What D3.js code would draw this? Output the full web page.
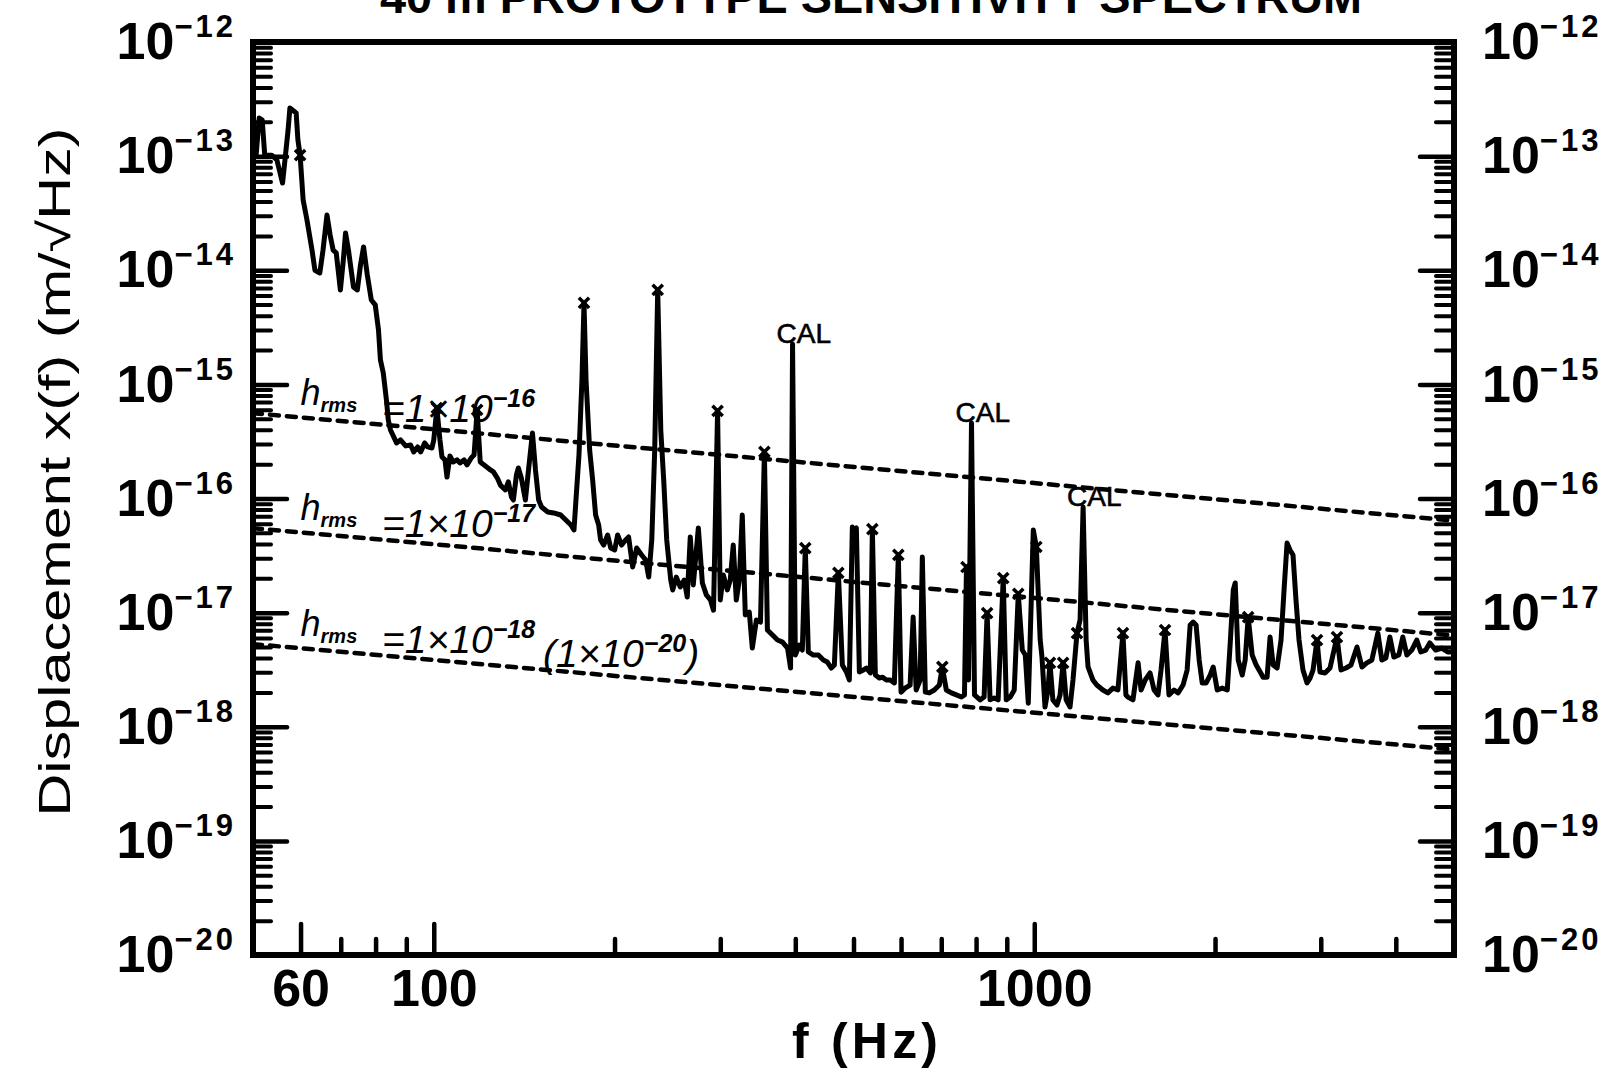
<!DOCTYPE html>
<html>
<head>
<meta charset="utf-8">
<script src="https://cdn.jsdelivr.net/npm/d3@7"></script>
<style>
  body { margin: 0; background: #fff; }
  svg { display: block; }
</style>
</head>
<body>
<div id="chart"></div>
<script>
{
    /*#########
      Data
    #########*/

    // Spectrum: [frequency (Hz), displacement (m/sqrt(Hz))]
    const spectrum = [
        [50.6,1.02e-13],[51.2,2.16e-13],[51.8,2.07e-13],[52.3,1.02e-13],[53.7,1.02e-13],[54.8,9.25e-14],[56.0,5.81e-14],[57.2,1.69e-13],[57.6,2.64e-13],[59.0,2.39e-13],[59.4,1.38e-13],[59.9,1.02e-13],
        [60.6,4.12e-14],[61.5,2.75e-14],[62.7,1.50e-14],[63.4,1.00e-14],[64.6,9.47e-15],[65.4,1.50e-14],[66.4,3.05e-14],[67.2,2.04e-14],[68.0,1.50e-14],[68.8,1.42e-14],[69.9,6.72e-15],
        [70.7,1.23e-14],[71.3,2.12e-14],[72.1,1.50e-14],[73.5,7.14e-15],[74.6,6.72e-15],[75.5,1.11e-14],[76.4,1.60e-14],[77.5,9.10e-15],[78.7,5.49e-15],[79.9,4.97e-15],
        [80.9,3.00e-15],[81.5,1.64e-15],[82.4,1.26e-15],[83.4,7.30e-16],[84.0,4.88e-16],[84.7,3.98e-16],[86.7,3.07e-16],[88.0,3.26e-16],[89.8,2.89e-16],
        [91.5,2.94e-16],[92.6,2.56e-16],[94.0,2.83e-16],[95.1,2.56e-16],[96.6,3.07e-16],[97.7,2.83e-16],[99.3,2.77e-16],[100.0,3.26e-16],[101.2,6.21e-16],[102.4,3.26e-16],
        [103.2,2.31e-16],[104.4,2.18e-16],[105.2,1.54e-16],[106.4,2.36e-16],[107.7,2.09e-16],[109.3,2.18e-16],[110.6,2.05e-16],[112.3,2.18e-16],[113.6,1.97e-16],[115.4,2.26e-16],[116.7,2.40e-16],[118.1,5.97e-16],[119.5,2.09e-16],
        [121.9,1.93e-16],[124.3,1.78e-16],[125.7,1.71e-16],[127.6,1.51e-16],[129.1,1.31e-16],[131.6,1.19e-16],[133.1,1.40e-16],[134.7,1.03e-16],[135.7,9.70e-17],[137.3,1.61e-16],[138.3,1.85e-16],[139.9,1.51e-16],
        [142.1,9.70e-17],[143.8,1.78e-16],[146.0,3.75e-16],[147.7,1.78e-16],[149.5,9.70e-17],[151.2,8.43e-17],[154.8,7.62e-17],[158.4,7.47e-17],[162.7,7.17e-17],[165.9,6.48e-17],[169.2,5.86e-17],[171.2,5.30e-17],
        [172.5,9.70e-17],[174.5,2.40e-16],[176.5,1.09e-15],[177.9,5.17e-15],[179.3,1.09e-15],[181.8,2.66e-16],[183.9,1.45e-16],[186.0,7.17e-17],[188.2,5.86e-17],[189.6,4.33e-17],
        [191.8,3.91e-17],[194.8,4.79e-17],[197.1,3.68e-17],[200.1,3.54e-17],[202.4,4.79e-17],[205.5,3.91e-17],[208.7,4.33e-17],[211.1,4.60e-17],[214.4,2.51e-17],[217.7,3.68e-17],[221.9,3.20e-17],[225.4,2.89e-17],[228.0,2.05e-17],
        [230.7,4.33e-17],[233.3,2.66e-16],[236.0,6.72e-15],[238.8,3.98e-16],[241.5,1.45e-16],[244.3,4.33e-17],[248.1,1.93e-17],[250.0,1.58e-17],[253.4,2.05e-17],[257.3,1.68e-17],[261.3,1.93e-17],[264.3,1.37e-17],[267.4,4.60e-17],[270.5,1.75e-17],[275.8,5.52e-17],
        [280.1,1.82e-17],[284.4,1.43e-17],[288.9,1.29e-17],[292.3,1.05e-17],[296.9,5.85e-16],[300.0,1.29e-17],[303.5,2.14e-17],[308.2,1.58e-17],[311.7,1.93e-17],[315.3,3.91e-17],[319.0,1.29e-17],[322.7,1.93e-17],[326.4,7.17e-17],
        [330.2,9.53e-18],[335.3,1.01e-17],[339.2,4.89e-18],[344.5,8.61e-18],[350.0,8.27e-18],[355.3,2.56e-16],[359.4,7.04e-18],[366.5,6.36e-18],[373.6,5.75e-18],[380.9,5.52e-18],[388.3,4.89e-18],[392.8,3.27e-18],[395.8,2.26e-15],
        [400.0,4.25e-18],[406.2,5.20e-18],[410.9,4.70e-18],[415.6,3.68e-17],[420.5,4.52e-18],[428.6,4.25e-18],[436.9,4.25e-18],[445.4,3.84e-18],[452.3,3.69e-18],[459.3,3.27e-18],[464.6,3.47e-18],[471.8,2.23e-17],
        [479.1,3.47e-18],[486.5,3.02e-18],[492.1,2.57e-18],[497.8,5.62e-17],[501.6,5.30e-17],[505.5,5.52e-17],[511.4,3.02e-18],[519.3,3.14e-18],[525.3,3.27e-18],[533.4,2.96e-18],[537.5,5.40e-17],
        [543.7,2.84e-18],[552.1,2.67e-18],[558.5,2.72e-18],[567.1,2.57e-18],[575.9,2.57e-18],[584.8,2.42e-18],[593.8,3.20e-17],[600.0,2.01e-18],[609.3,2.18e-18],[621.2,2.32e-18],[628.5,9.15e-18],[635.8,2.10e-18],[645.6,2.57e-18],[651.0,3.07e-17],[658.5,2.01e-18],[668.7,1.98e-18],[681.6,2.10e-18],[694.9,2.32e-18],
        [702.9,3.34e-18],[713.7,2.10e-18],[727.7,1.98e-18],[741.9,1.90e-18],[756.4,1.82e-18],[765.2,1.90e-18],[771.1,2.51e-17],[777.0,2.57e-18],[786.1,4.59e-16],[795.2,1.90e-18],
        [812.4,1.72e-18],[825.0,1.82e-18],[834.6,9.92e-18],[844.2,1.72e-18],[857.4,1.79e-18],[870.6,1.72e-18],[887.8,2.01e-17],[898.1,1.72e-18],[912.0,1.82e-18],[926.1,2.10e-18],[940.5,1.46e-17],[955.1,4.70e-18],[966.2,4.25e-18],[977.3,1.61e-18],[988.6,1.29e-17],[996.3,5.30e-17],
        [1008,3.76e-17],[1023,5.75e-18],[1030,4.08e-18],[1042,1.49e-18],[1054,2.10e-18],[1062,3.63e-18],[1074,1.72e-18],[1091,1.55e-18],[1104,1.90e-18],[1117,3.63e-18],[1130,1.72e-18],[1147,1.49e-18],[1160,2.57e-18],[1178,6.62e-18],[1192,8.61e-18],[1206,8.43e-17],
        [1220,5.75e-18],[1229,3.34e-18],[1252,2.57e-18],[1271,2.32e-18],[1301,2.10e-18],[1326,1.98e-18],[1352,2.18e-18],[1378,2.10e-18],[1405,6.62e-18],[1421,1.90e-18],[1432,1.82e-18],[1460,1.72e-18],[1489,3.63e-18],
        [1506,2.10e-18],[1530,2.57e-18],[1559,2.96e-18],[1583,2.10e-18],[1607,1.90e-18],[1626,3.14e-18],[1651,7.04e-18],[1676,1.90e-18],[1709,2.10e-18],[1736,1.98e-18],[1769,2.32e-18],[1797,3.14e-18],[1818,7.79e-18],[1839,8.27e-18],[1860,7.79e-18],[1882,3.84e-18],
        [1904,2.42e-18],[1933,2.42e-18],[1963,2.84e-18],[1986,3.34e-18],[2017,2.10e-18],[2056,2.18e-18],[2096,2.10e-18],[2120,5.42e-18],[2145,1.58e-17],[2161,1.82e-17],[2186,3.84e-18],[2220,2.84e-18],[2245,3.84e-18],[2271,9.15e-18],
        [2306,4.25e-18],[2342,3.47e-18],[2378,3.02e-18],[2405,2.72e-18],[2442,2.72e-18],[2470,6.11e-18],[2499,3.47e-18],[2537,3.27e-18],[2576,5.75e-18],[2606,1.58e-17],[2636,4.07e-17],[2666,3.54e-17],[2697,3.20e-17],[2728,1.29e-17],[2760,5.75e-18],
        [2802,3.14e-18],[2846,2.42e-18],[2879,2.67e-18],[2912,3.14e-18],[2957,5.75e-18],[2991,3.02e-18],[3049,2.96e-18],[3108,3.27e-18],[3192,6.11e-18],[3242,3.14e-18],[3304,3.27e-18],[3368,3.47e-18],[3447,5.00e-18],
        [3513,3.34e-18],[3580,3.63e-18],[3649,3.84e-18],[3734,6.62e-18],[3792,3.84e-18],[3850,4.00e-18],[3910,6.11e-18],[3970,4.08e-18],[4047,4.25e-18],[4109,6.11e-18],[4173,4.25e-18],[4253,4.70e-18],[4335,5.75e-18],[4402,4.52e-18],[4487,4.70e-18],[4556,5.42e-18],[4662,4.70e-18],[4770,4.89e-18],[4881,4.52e-18],[4975,4.52e-18]
    ];

    // Lines flagged with an "x" on the plot
    const markedFreqs = [59.9, 101.2, 118.1, 177.9, 236.0, 296.9, 355.3, 415.6, 471.8, 537.5, 593.8, 702.9, 771.1, 834.6, 887.8, 940.5, 1008, 1062, 1117, 1178, 1405, 1651, 2271, 2957, 3192];

    // Calibration lines
    const calFreqs = [395.8, 786.1, 1206];

    // h_rms reference lines (dashed)
    const hrmsExp = [-16, -17, -18];
    const hrmsStart = [5.6e-16, 5.5e-17, 5.3e-18];
    const hrmsEnd = [6.4e-17, 6.3e-18, 6.3e-19];
    const hrmsFreqRange = [50, 5000];

    // Axis ticks
    const xMajorTicks = [60, 100, 1000];
    const xMinorTicks = [70, 80, 90, 200, 300, 400, 500, 600, 700, 800, 900, 2000, 3000, 4000];
    const yDecades = [-12, -13, -14, -15, -16, -17, -18, -19, -20];

    /*#########
      Global
    #########*/

    const margin = { top: 42, right: 158, bottom: 118, left: 253 };
    const width = 1612 - margin.left - margin.right;
    const height = 1073 - margin.top - margin.bottom;
    const font = "'Liberation Sans', Arial, Helvetica, sans-serif";

    const svg = d3.select('#chart')
        .append('svg')
        .attr('width', 1612)
        .attr('height', 1073)
        .style('background', '#fff');

    const g = svg.append('g')
        .attr('transform', 'translate(' + margin.left + ',' + margin.top + ')');

    //Scales
    const x = d3.scaleLog().domain([50, 5000]).range([0, width]);
    const y = d3.scaleLog().domain([1e-20, 1e-12]).range([height, 0]);

    const yMajor = yDecades.map(e => Math.pow(10, e));
    const yMinor = [];
    for (let e = -20; e < -12; e++) {
        for (let m = 2; m <= 9; m++) yMinor.push(m * Math.pow(10, e));
    }

    /*###########
      Reference lines
    ###########*/

    const hrmsAt = (i, f) => hrmsStart[i] * Math.pow(hrmsEnd[i] / hrmsStart[i],
        Math.log(f / hrmsFreqRange[0]) / Math.log(hrmsFreqRange[1] / hrmsFreqRange[0]));

    const line = d3.line().x(d => x(d[0])).y(d => y(d[1]));

    hrmsExp.forEach((e, i) => {
        g.append('path')
            .attr('d', line(hrmsFreqRange.map(f => [f, hrmsAt(i, f)])))
            .attr('fill', 'none')
            .attr('stroke', '#000')
            .attr('stroke-width', 4.5)
            .attr('stroke-linecap', 'round')
            .attr('stroke-dasharray', '9,8');

        // label  h_rms = 1x10^e
        const t = g.append('text')
            .attr('x', x(60))
            .attr('y', y(hrmsAt(i, 60)) - 12)
            .attr('font-family', font)
            .attr('font-style', 'italic')
            .attr('fill', '#000');
        t.append('tspan').attr('font-size', 36).text('h');
        t.append('tspan').attr('font-size', 20).attr('font-weight', 'bold').attr('dy', 7).text('rms');
        t.append('tspan').attr('font-size', 39).attr('x', x(82)).attr('dy', 10).text('=1×10');
        t.append('tspan').attr('font-size', 25).attr('font-weight', 'bold').attr('dy', -15).text('−' + (-e));
    });

    // (1x10^-20) note on the lowest line
    const note = g.append('text')
        .attr('x', x(152))
        .attr('y', y(hrmsAt(2, 152)) - 3)
        .attr('font-family', font)
        .attr('font-style', 'italic')
        .attr('fill', '#000');
    note.append('tspan').attr('font-size', 39).text('(1×10');
    note.append('tspan').attr('font-size', 25).attr('font-weight', 'bold').attr('dy', -15).text('−20');
    note.append('tspan').attr('font-size', 39).attr('dy', 15).text(')');

    /*###########
      Spectrum
    ###########*/

    g.append('path')
        .datum(spectrum)
        .attr('d', line)
        .attr('fill', 'none')
        .attr('stroke', '#000')
        .attr('stroke-width', 5)
        .attr('stroke-linejoin', 'round')
        .attr('stroke-linecap', 'round');

    const nearest = f => spectrum.reduce((a, b) =>
        Math.abs(Math.log(b[0] / f)) < Math.abs(Math.log(a[0] / f)) ? b : a);

    //Markers
    g.selectAll('.mark')
        .data(markedFreqs.map(nearest))
        .join('path')
        .attr('class', 'mark')
        .attr('transform', d => 'translate(' + x(d[0]) + ',' + y(d[1]) + ')')
        .attr('d', d3.symbol(d3.symbolTimes, 70))
        .attr('fill', 'none')
        .attr('stroke', '#000')
        .attr('stroke-width', 3.5);

    //CAL labels
    g.selectAll('.cal')
        .data(calFreqs.map(nearest))
        .join('text')
        .attr('class', 'cal')
        .attr('x', d => x(d[0]) - 16)
        .attr('y', d => y(d[1]) - 1)
        .attr('font-family', font)
        .attr('font-size', 28)
        .attr('stroke', '#000')
        .attr('stroke-width', 0.6)
        .attr('fill', '#000')
        .text('CAL');

    /*###########
      Axes
    ###########*/

    const styleTicks = (sel, w) => {
        sel.select('.domain').remove();
        sel.selectAll('.tick line')
            .attr('stroke', '#000')
            .attr('stroke-width', w)
            .attr('stroke-linecap', 'round');
    };

    const powerText = sel => sel.selectAll('.tick text').each(function (d) {
        const t = d3.select(this).text(null);
        t.append('tspan').text('10');
        t.append('tspan')
            .attr('dy', -22)
            .attr('font-size', 31)
            .attr('letter-spacing', 3)
            .text('−' + Math.round(-Math.log10(d)));
    });

    const labelStyle = sel => sel
        .attr('font-family', font)
        .attr('font-size', 52)
        .attr('font-weight', 'bold');

    //Left
    g.append('g')
        .call(d3.axisLeft(y).tickValues(yMinor).tickSize(-18).tickFormat(() => ''))
        .call(styleTicks, 4);
    g.append('g')
        .call(d3.axisLeft(y).tickValues(yMajor).tickSize(-34).tickPadding(17).tickFormat(() => ''))
        .call(styleTicks, 4.5)
        .call(labelStyle)
        .call(powerText);

    //Right
    g.append('g')
        .attr('transform', 'translate(' + width + ',0)')
        .call(d3.axisRight(y).tickValues(yMinor).tickSize(-18).tickFormat(() => ''))
        .call(styleTicks, 4);
    g.append('g')
        .attr('transform', 'translate(' + width + ',0)')
        .call(d3.axisRight(y).tickValues(yMajor).tickSize(-34).tickPadding(28).tickFormat(() => ''))
        .call(styleTicks, 4.5)
        .call(labelStyle)
        .call(powerText);

    //Bottom
    g.append('g')
        .attr('transform', 'translate(0,' + height + ')')
        .call(d3.axisBottom(x).tickValues(xMinorTicks).tickSize(-16).tickFormat(() => ''))
        .call(styleTicks, 4.5);
    g.append('g')
        .attr('transform', 'translate(0,' + height + ')')
        .call(d3.axisBottom(x).tickValues(xMajorTicks).tickSize(-31).tickPadding(14).tickFormat(d3.format('d')))
        .call(styleTicks, 4.5)
        .attr('font-family', font)
        .attr('font-size', 52)
        .attr('font-weight', 'bold');

    //Frame
    g.append('rect')
        .attr('width', width)
        .attr('height', height)
        .attr('fill', 'none')
        .attr('stroke', '#000')
        .attr('stroke-width', 6);

    /*###########
      Titles
    ###########*/

    // title sits partly above the page edge, as in the scanned original
    svg.append('text')
        .attr('x', 871)
        .attr('y', 13)
        .attr('text-anchor', 'middle')
        .attr('font-family', font)
        .attr('font-weight', 'bold')
        .attr('font-size', 46)
        .attr('textLength', 982)
        .attr('lengthAdjust', 'spacingAndGlyphs')
        .text('40 m PROTOTYPE SENSITIVITY SPECTRUM');

    svg.append('text')
        .attr('transform', 'translate(70,472) rotate(-90)')
        .attr('text-anchor', 'middle')
        .attr('font-family', font)
        .attr('font-size', 45)
        .attr('textLength', 689)
        .attr('lengthAdjust', 'spacingAndGlyphs')
        .text('Displacement x(f) (m/√Hz)');

    svg.append('text')
        .attr('x', 865)
        .attr('y', 1058)
        .attr('text-anchor', 'middle')
        .attr('font-family', font)
        .attr('font-weight', 'bold')
        .attr('font-size', 50)
        .attr('textLength', 146)
        .attr('lengthAdjust', 'spacing')
        .text('f (Hz)');
}
</script>
</body>
</html>
